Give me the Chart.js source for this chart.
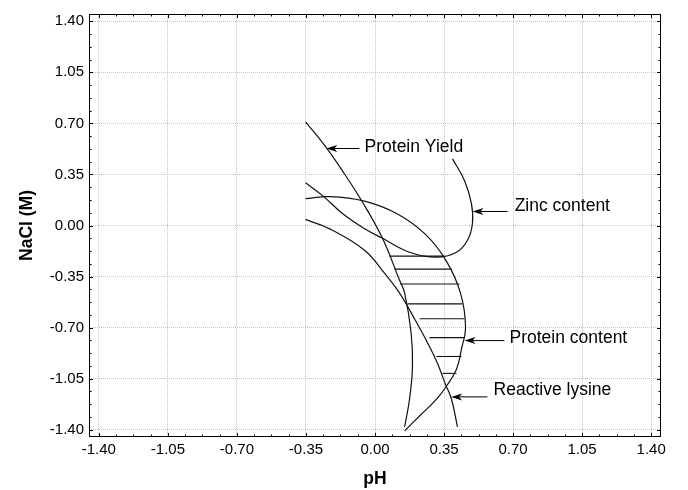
<!DOCTYPE html>
<html><head><meta charset="utf-8">
<script src="https://cdn.jsdelivr.net/npm/chart.js@4.4.1/dist/chart.umd.min.js"></script>
<style>html,body{margin:0;padding:0;background:#fff;}</style>
</head><body>
<canvas id="c" width="688" height="490" style="width:688px;height:490px;display:block"></canvas>
<script>
// ---- tick labels ----
const majorTicks = [-1.40, -1.05, -0.70, -0.35, 0.00, 0.35, 0.70, 1.05, 1.40];

// ---- curves (pH, NaCl) ----
const yieldX = [-0.352, -0.247, -0.165, -0.063, 0.038, 0.124, 0.150, 0.183, 0.190, 0.175, 0.150];
const yieldY = [0.711, 0.534, 0.375, 0.159, -0.088, -0.374, -0.462, -0.735, -0.966, -1.191, -1.381];

const zincX = [-0.352, -0.266, -0.165, -0.063, 0.038, 0.175, 0.312, 0.413, 0.469, 0.494, 0.489, 0.454, 0.393];
const zincY = [0.293, 0.205, 0.082, -0.013, -0.088, -0.183, -0.217, -0.183, -0.101, 0.014, 0.150, 0.307, 0.457];

const proteinX = [-0.352, -0.231, -0.053, 0.114, 0.256, 0.362, 0.433, 0.459, 0.438, 0.413, 0.362, 0.312, 0.231, 0.150];
const proteinY = [0.184, 0.198, 0.167, 0.079, -0.061, -0.244, -0.462, -0.694, -0.850, -0.986, -1.102, -1.191, -1.299, -1.408];

const lysineX = [-0.352, -0.215, -0.053, 0.048, 0.124, 0.200, 0.266, 0.317, 0.357, 0.388, 0.418];
const lysineY = [0.042, -0.033, -0.170, -0.326, -0.462, -0.639, -0.803, -0.946, -1.088, -1.191, -1.381];

// ---- hatching of the optimum region ----
const hatchY      = [-0.210, -0.299, -0.401, -0.537, -0.639, -0.769, -0.898, -1.014];
const hatchLeftX  = [0.073, 0.099, 0.128, 0.165, 0.226, 0.276, 0.312, 0.342];
const hatchRightX = [0.352, 0.388, 0.428, 0.443, 0.454, 0.454, 0.438, 0.413];

// ---- annotations ----
const annoText  = ['Protein Yield', 'Zinc content', 'Protein content', 'Reactive lysine'];
const annoTipX  = [-0.247, 0.494, 0.454, 0.386];
const annoTailX = [-0.079, 0.672, 0.656, 0.570];
const annoArrowY= [0.528, 0.096, -0.789, -1.175];
const annoTextX = [-0.053, 0.708, 0.682, 0.601];
const annoTextY = [0.538, 0.132, -0.771, -1.127];

const FONT = 'Arial, "Liberation Sans", Helvetica, sans-serif';

function pts(xs, ys) { return xs.map((x, i) => ({x: x, y: ys[i]})); }
function curve(xs, ys) {
  return { data: pts(xs, ys), showLine: true, borderColor: '#111', borderWidth: 1.2,
           pointRadius: 0, tension: 0.4, fill: false };
}
const datasets = [curve(yieldX, yieldY), curve(zincX, zincY), curve(proteinX, proteinY), curve(lysineX, lysineY)];
hatchY.forEach((hy, i) => {
  datasets.push({ data: [{x: hatchLeftX[i], y: hy}, {x: hatchRightX[i], y: hy}], showLine: true,
    borderColor: '#111', borderWidth: 1.1, pointRadius: 0, tension: 0, fill: false });
});

const minorTicks = [];
const step = (majorTicks[1] - majorTicks[0]) / 4;
for (let i = 0; i <= (majorTicks.length - 1) * 4; i++) minorTicks.push(majorTicks[0] + i * step);

const framePlugin = {
  id: 'frame',
  afterDraw(chart) {
    const {ctx, chartArea: a, scales: {x, y}} = chart;
    ctx.save();
    ctx.strokeStyle = '#000'; ctx.lineWidth = 1;
    ctx.strokeRect(a.left + 0.5, a.top + 0.5, a.right - a.left - 1, a.bottom - a.top - 1);
    ctx.beginPath();
    minorTicks.forEach((v, i) => {
      const len = (i % 4 === 0) ? 4 : 2.5;
      const px = Math.round(x.getPixelForValue(v)) + 0.5;
      ctx.moveTo(px, a.bottom); ctx.lineTo(px, a.bottom - len);
      ctx.moveTo(px, a.top); ctx.lineTo(px, a.top + len);
      const py = Math.round(y.getPixelForValue(v)) + 0.5;
      ctx.moveTo(a.left, py); ctx.lineTo(a.left + len, py);
      ctx.moveTo(a.right, py); ctx.lineTo(a.right - len, py);
    });
    ctx.stroke();
    ctx.restore();
  }
};

const annoPlugin = {
  id: 'anno',
  afterDatasetsDraw(chart) {
    const {ctx, scales: {x, y}} = chart;
    ctx.save();
    ctx.strokeStyle = '#000'; ctx.fillStyle = '#000'; ctx.lineWidth = 1;
    annoText.forEach((t, i) => {
      const tx = x.getPixelForValue(annoTipX[i]);
      const ex = x.getPixelForValue(annoTailX[i]);
      const ay = y.getPixelForValue(annoArrowY[i]);
      ctx.beginPath(); ctx.moveTo(tx + 8, ay); ctx.lineTo(ex, ay); ctx.stroke();
      ctx.beginPath();
      ctx.moveTo(tx, ay); ctx.lineTo(tx + 11, ay - 3.5); ctx.lineTo(tx + 8, ay);
      ctx.lineTo(tx + 11, ay + 3.5); ctx.closePath(); ctx.fill();
      ctx.font = '17.5px ' + FONT; ctx.textAlign = 'left'; ctx.textBaseline = 'middle';
      ctx.fillText(t, x.getPixelForValue(annoTextX[i]), y.getPixelForValue(annoTextY[i]));
    });
    ctx.restore();
  }
};

function axis(title, isX) {
  return {
    type: 'linear', min: -1.45, max: 1.45,
    afterBuildTicks(scale) { scale.ticks = majorTicks.map(v => ({value: v})); },
    afterFit(scale) { if (isX) scale.height = 53; else scale.width = 89; },
    ticks: { color: '#000', font: {family: FONT, size: 15}, padding: isX ? 4 : 5,
             callback: v => Number(v).toFixed(2), autoSkip: false, maxRotation: 0 },
    grid: { color: '#c4c4c4', lineWidth: 1, drawTicks: false, tickLength: 0 },
    border: { display: false, dash: [1, 1] },
    title: { display: true, text: title, color: '#000',
             font: {family: FONT, size: 17.5, weight: 'bold', lineHeight: 1.2},
             padding: isX ? {top: 0, bottom: 0.5} : {top: 16.5, bottom: 0} }
  };
}

new Chart(document.getElementById('c'), {
  type: 'scatter',
  data: { datasets: datasets },
  options: {
    responsive: false, devicePixelRatio: 1, animation: false,
    layout: { padding: {top: 12, right: 27, left: 0, bottom: 0} },
    plugins: { legend: {display: false}, tooltip: {enabled: false} },
    scales: { x: axis('pH', true), y: axis('NaCl (M)', false) }
  },
  plugins: [framePlugin, annoPlugin]
});
</script>
</body></html>
